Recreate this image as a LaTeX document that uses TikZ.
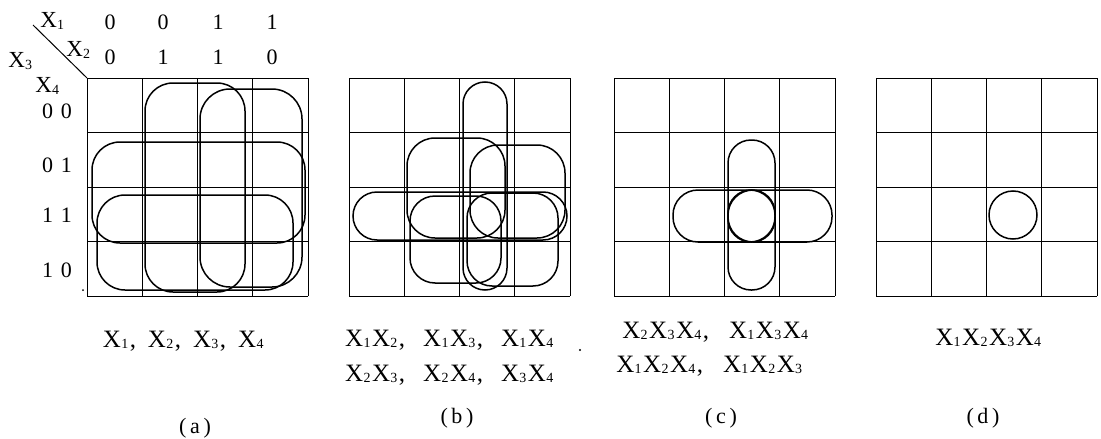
\documentclass[tikz,border=0pt]{standalone}
\usepackage{fontspec}
\setmainfont{Liberation Serif}
\newcommand\Xv[1]{X\kern0.3pt\raisebox{-1.3pt}{\fontsize{14}{14}\selectfont #1}\kern1.5pt}
\begin{document}
\begin{tikzpicture}[x=1pt,y=-1pt,
  gridline/.style={line width=1pt},
  kloop/.style={line width=1.5pt},
  lab/.style={font=\fontsize{25}{29}\selectfont, inner sep=0pt},
  hd/.style={font=\fontsize{23}{27}\selectfont, inner sep=0pt},
  dg/.style={font=\fontsize{22}{26}\selectfont, inner sep=0pt},
  captext/.style={font=\fontsize{22}{26}\selectfont, inner sep=0pt}]
\useasboundingbox (0,0) rectangle (1101,439);
% grids
\foreach \L in {87,349,614,876}{
  \foreach \i in {0,...,4}{
    \draw[gridline] (\L+\i*55.25,78) -- (\L+\i*55.25,296);
    \draw[gridline] (\L,78+\i*54.5) -- (\L+221,78+\i*54.5);
  }
}
% headers of (a)
\coordinate (dstart) at (33,25);
\coordinate (dend) at (87,78);
\draw[line width=1pt] (dstart) -- (dend);
\node[hd] (hx1) at (53,21) {\Xv1};
\node[hd] (hx2) at (79,50) {\Xv2};
\node[hd] (hx3) at (21,61) {\Xv3};
\node[hd] (hx4) at (48,86) {\Xv4};
\node[dg] (c1a) at (110,22) {0};
\node[dg] (c2a) at (163,22) {0};
\node[dg] (c3a) at (218,22) {1};
\node[dg] (c4a) at (272,22) {1};
\node[dg] (c1b) at (110,57) {0};
\node[dg] (c2b) at (163,57) {1};
\node[dg] (c3b) at (218,57) {1};
\node[dg] (c4b) at (272,57) {0};
\node[dg] (r1) at (57,111) {0\hspace{8pt}0};
\node[dg] (r2) at (57,165) {0\hspace{8pt}1};
\node[dg] (r3) at (57,215) {1\hspace{8pt}1};
\node[dg] (r4) at (57,270) {1\hspace{8pt}0};
% loops (a)
\draw[kloop, rounded corners=28pt] (145,83) rectangle (245,292);
\draw[kloop, rounded corners=30pt] (200,89) rectangle (302,287);
\draw[kloop, rounded corners=28pt] (92,142) rectangle (305,243);
\draw[kloop, rounded corners=28pt] (97,195) rectangle (293,290);
% loops (b)
\draw[kloop, rounded corners=22pt] (463,82) rectangle (507,290);
\draw[kloop, rounded corners=28pt] (407,138) rectangle (505,238);
\draw[kloop, rounded corners=28pt] (470,145) rectangle (565,238);
\draw[kloop, rounded corners=24pt] (353,192) rectangle (567,240);
\draw[kloop, rounded corners=25pt] (410,196) rectangle (501,283);
\draw[kloop, rounded corners=25pt] (467,193) rectangle (558,286);
% loops (c)
\draw[kloop, rounded corners=23pt] (728,140) rectangle (775,242);
\draw[kloop, rounded corners=23pt] (728,190) rectangle (775,290);
\draw[kloop, rounded corners=25pt] (673,190) rectangle (775,242);
\draw[kloop, rounded corners=25pt] (728,190) rectangle (832,242);
% loop (d)
\draw[kloop] (1013,215) circle[radius=24];
% labels
\node[lab] (la) at (184,341) {\Xv1,\hspace{12pt}\Xv2,\hspace{12pt}\Xv3,\hspace{12pt}\Xv4};
\node[lab] (lb1) at (450,340) {\Xv1\Xv2,\hspace{18pt}\Xv1\Xv3,\hspace{18pt}\Xv1\Xv4};
\node[lab] (lb2) at (450,375) {\Xv2\Xv3,\hspace{18pt}\Xv2\Xv4,\hspace{18pt}\Xv3\Xv4};
\node[lab] (lc1) at (716,332) {\Xv2\Xv3\Xv4,\hspace{20pt}\Xv1\Xv3\Xv4};
\node[lab] (lc2) at (710,366) {\Xv1\Xv2\Xv4,\hspace{20pt}\Xv1\Xv2\Xv3};
\node[lab] (ld) at (989,338) {\Xv1\Xv2\Xv3\Xv4};
\fill (580,350) circle[radius=1.2];
\fill (83,290) circle[radius=1];
% captions
\node[captext] (ca) at (195,428) {(\,a\,)};
\node[captext] (cb) at (457,418) {(\,b\,)};
\node[captext] (cc) at (721,418) {(\,c\,)};
\node[captext] (cd) at (983,418) {(\,d\,)};
\end{tikzpicture}
\end{document}
